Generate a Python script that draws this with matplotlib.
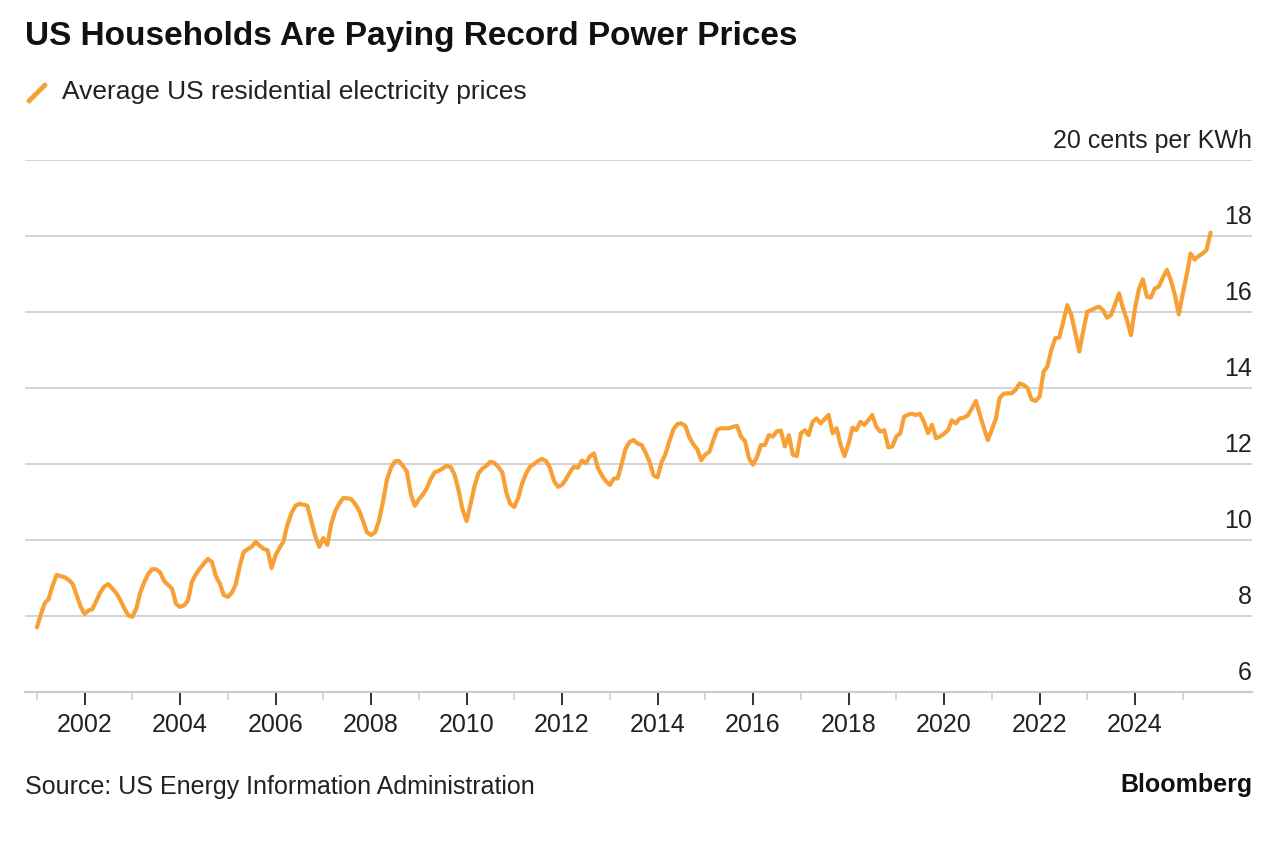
import matplotlib
matplotlib.use("Agg")
import matplotlib.pyplot as plt
import matplotlib.dates as mdates
from matplotlib.lines import Line2D
import pandas as pd

# Average US residential electricity price, cents per kWh, monthly from Jan 2001
prices = [
    7.70, 8.05, 8.33, 8.45, 8.80, 9.08, 9.05, 9.02, 8.95, 8.85, 8.55, 8.25,  # 2001
    8.05, 8.15, 8.18, 8.40, 8.62, 8.78, 8.84, 8.72, 8.60, 8.42, 8.20, 8.02,  # 2002
    7.98, 8.20, 8.60, 8.88, 9.10, 9.23, 9.23, 9.15, 8.92, 8.82, 8.72, 8.32,  # 2003
    8.24, 8.28, 8.40, 8.90, 9.10, 9.25, 9.38, 9.50, 9.42, 9.05, 8.85, 8.55,  # 2004
    8.50, 8.62, 8.82, 9.30, 9.68, 9.76, 9.82, 9.95, 9.85, 9.77, 9.73, 9.26,  # 2005
    9.60, 9.80, 9.95, 10.40, 10.70, 10.90, 10.95, 10.93, 10.90, 10.50, 10.10, 9.82,  # 2006
    10.05, 9.87, 10.40, 10.75, 10.95, 11.10, 11.10, 11.08, 10.95, 10.78, 10.50, 10.20,  # 2007
    10.13, 10.20, 10.50, 11.00, 11.58, 11.90, 12.07, 12.08, 11.95, 11.80, 11.20, 10.90,  # 2008
    11.07, 11.20, 11.35, 11.60, 11.78, 11.82, 11.88, 11.95, 11.92, 11.72, 11.30, 10.80,  # 2009
    10.50, 10.95, 11.40, 11.75, 11.88, 11.95, 12.06, 12.03, 11.92, 11.78, 11.25, 10.95,  # 2010
    10.87, 11.12, 11.48, 11.75, 11.93, 12.00, 12.08, 12.13, 12.08, 11.90, 11.55, 11.40,  # 2011
    11.45, 11.60, 11.78, 11.93, 11.90, 12.09, 12.02, 12.20, 12.28, 11.90, 11.70, 11.55,  # 2012
    11.45, 11.62, 11.62, 12.00, 12.40, 12.58, 12.63, 12.54, 12.50, 12.30, 12.05, 11.70,  # 2013
    11.65, 12.05, 12.25, 12.60, 12.90, 13.05, 13.07, 13.00, 12.70, 12.52, 12.38, 12.10,  # 2014
    12.25, 12.32, 12.60, 12.90, 12.94, 12.94, 12.94, 12.98, 13.00, 12.72, 12.60, 12.15,  # 2015
    11.98, 12.19, 12.50, 12.50, 12.76, 12.72, 12.86, 12.88, 12.46, 12.76, 12.24, 12.21,  # 2016
    12.81, 12.89, 12.76, 13.11, 13.20, 13.07, 13.18, 13.29, 12.81, 12.94, 12.50, 12.21,  # 2017
    12.54, 12.96, 12.89, 13.11, 13.03, 13.15, 13.29, 12.98, 12.85, 12.89, 12.44, 12.46,  # 2018
    12.72, 12.81, 13.24, 13.30, 13.32, 13.29, 13.32, 13.11, 12.81, 13.03, 12.68, 12.72,  # 2019
    12.80, 12.89, 13.15, 13.07, 13.20, 13.22, 13.28, 13.46, 13.66, 13.30, 12.95, 12.63,  # 2020
    12.90, 13.20, 13.73, 13.85, 13.86, 13.86, 13.95, 14.12, 14.08, 14.00, 13.70, 13.66,  # 2021
    13.77, 14.43, 14.56, 15.00, 15.31, 15.33, 15.75, 16.18, 15.92, 15.45, 14.96, 15.50,  # 2022
    16.01, 16.05, 16.10, 16.14, 16.05, 15.85, 15.92, 16.20, 16.49, 16.10, 15.78, 15.39,  # 2023
    16.10, 16.62, 16.86, 16.40, 16.38, 16.62, 16.67, 16.90, 17.11, 16.84, 16.45, 15.94,  # 2024
    16.49, 17.00, 17.54, 17.38, 17.47, 17.54, 17.63, 18.09,                          # 2025
]
start_month = "2001-01-01"

y_ticks = [6, 8, 10, 12, 14, 16, 18, 20]
y_labels = ["6", "8", "10", "12", "14", "16", "18", "20 cents per KWh"]
major_years = list(range(2002, 2025, 2))
minor_years = list(range(2001, 2026, 2))

title = "US Households Are Paying Record Power Prices"
legend_label = "Average US residential electricity prices"
source = "Source: US Energy Information Administration"

orange = "#F7A035"
grid_gray = "#cccccc"
text_col = "#222222"

plt.rcParams["font.family"] = ["Liberation Sans", "DejaVu Sans"]

W, H = 1280, 844
fig = plt.figure(figsize=(W / 100, H / 100), dpi=100)

left, right, top, bottom = 25, 1252, 160, 692
ax = fig.add_axes([left / W, 1 - bottom / H, (right - left) / W, (bottom - top) / H])

months = pd.date_range(start_month, periods=len(prices), freq="MS")
ax.plot(months, prices, color=orange, lw=3, solid_joinstyle="round",
        solid_capstyle="round", zorder=3)

ax.set_ylim(6, 20)
ax.set_xlim(pd.Timestamp("2000-10-02"), pd.Timestamp("2026-06-14"))

for s in ["top", "right", "left"]:
    ax.spines[s].set_visible(False)
ax.spines["bottom"].set_color(grid_gray)
ax.spines["bottom"].set_linewidth(1.5)

ax.set_yticks(y_ticks)
ax.set_yticklabels([])
ax.tick_params(axis="y", length=0)
ax.grid(axis="y", color=grid_gray, lw=1.2)
ax.set_axisbelow(True)

for v, lab in zip(y_ticks, y_labels):
    ax.annotate(lab, xy=(1.0, v), xycoords=("axes fraction", "data"),
                xytext=(0, 9), textcoords="offset points",
                ha="right", va="baseline", fontsize=18, color=text_col)

ax.set_xticks([pd.Timestamp(f"{y}-01-01") for y in major_years])
ax.set_xticklabels([str(y) for y in major_years])
ax.set_xticks([pd.Timestamp(f"{y}-01-01") for y in minor_years], minor=True)
ax.tick_params(axis="x", which="major", length=9, width=1.3, color=text_col,
               labelsize=18, labelcolor=text_col, pad=6)
ax.tick_params(axis="x", which="minor", length=6, width=1.1, color=grid_gray)

fig.text(25 / W, 1 - 37 / H, title, fontsize=24, fontweight="bold",
         ha="left", va="center", color="#111111")

fig.add_artist(Line2D([29 / W, 45 / W], [1 - 101 / H, 1 - 85 / H],
                      color=orange, lw=3.5, solid_capstyle="round"))
fig.text(62 / W, 1 - 92 / H, legend_label, fontsize=19, ha="left", va="center",
         color=text_col)

fig.text(25 / W, 1 - 787 / H, source, fontsize=18, ha="left", va="center",
         color=text_col)
fig.text(1252 / W, 1 - 785 / H, "Bloomberg", fontsize=18, fontweight="bold",
         ha="right", va="center", color="#111111")

fig.savefig("out.png", dpi=100)
